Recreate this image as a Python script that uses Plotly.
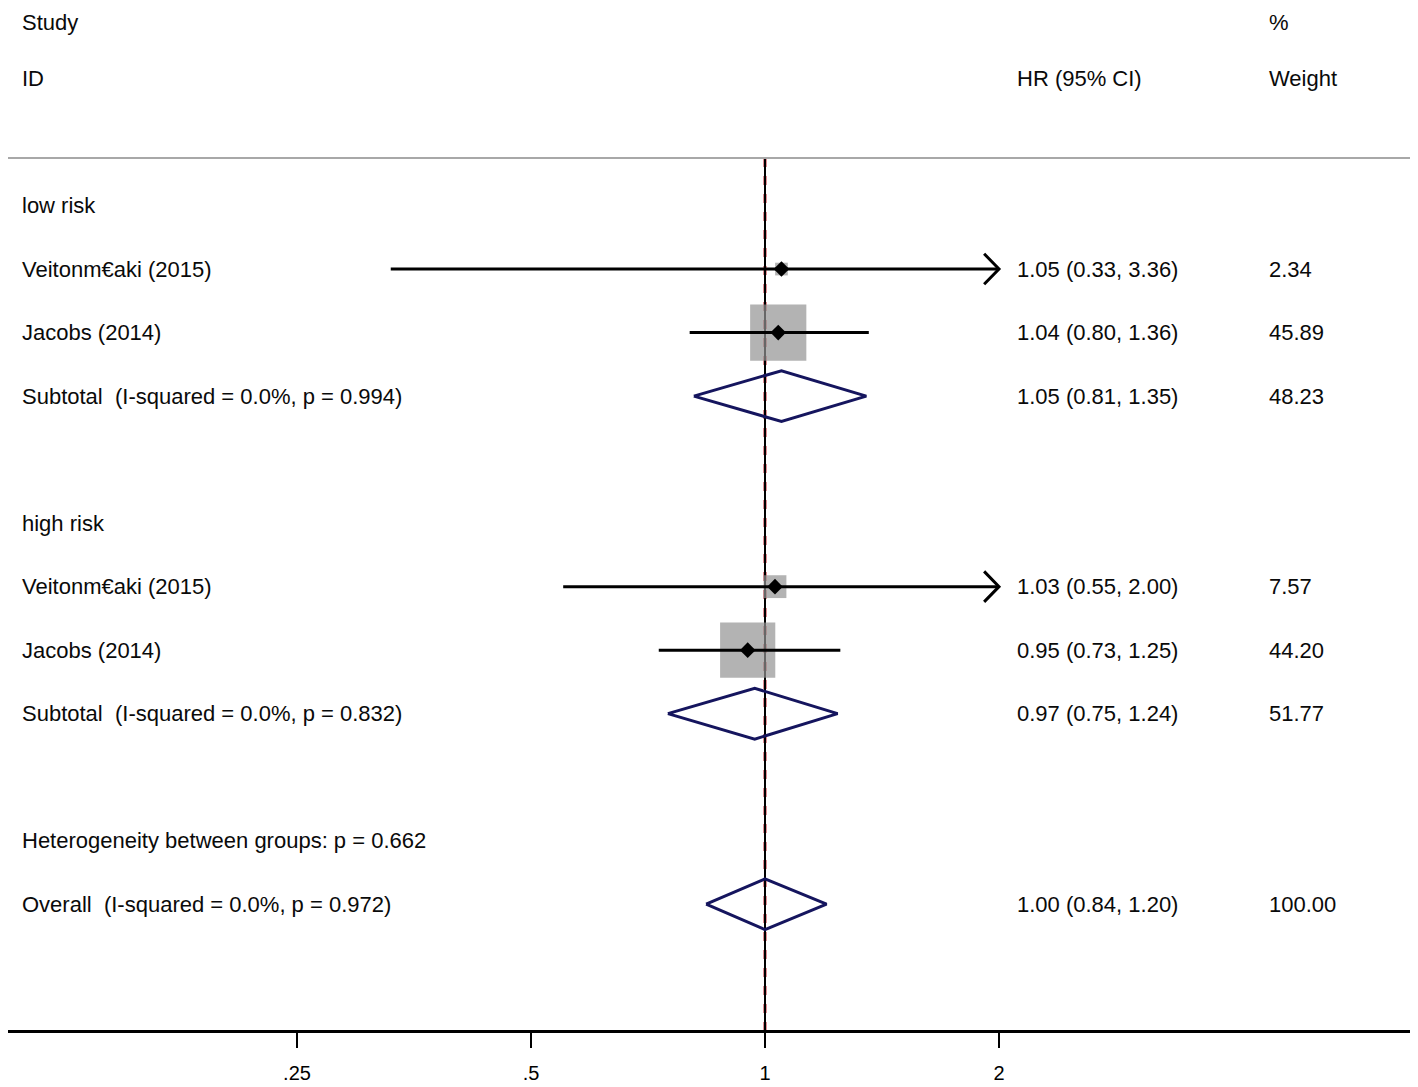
import numpy as np
import plotly.graph_objects as go

# forest plot data
groups = ["low risk", "high risk"]
studies = ["Veitonm€aki (2015)", "Jacobs (2014)", "Veitonm€aki (2015)", "Jacobs (2014)"]
study_group = [0, 0, 1, 1]
hr = [1.05, 1.04, 1.03, 0.95]
hr_lo = [0.33, 0.80, 0.55, 0.73]
hr_hi = [3.36, 1.36, 2.00, 1.25]
weight = [2.34, 45.89, 7.57, 44.20]

sub_label = ["Subtotal  (I-squared = 0.0%, p = 0.994)", "Subtotal  (I-squared = 0.0%, p = 0.832)"]
sub_hr = [1.05, 0.97]
sub_lo = [0.81, 0.75]
sub_hi = [1.35, 1.24]
sub_weight = [48.23, 51.77]

het_label = "Heterogeneity between groups: p = 0.662"
overall_label = "Overall  (I-squared = 0.0%, p = 0.972)"
overall_hr, overall_lo, overall_hi, overall_weight = 1.00, 0.84, 1.20, 100.00

tick_vals = [0.25, 0.5, 1, 2]
tick_text = [".25", ".5", "1", "2"]
clip_max = 2.0

# page has an 8px body margin, so the figure is 8px smaller each way
W, H = 1410, 1079
FONT = "Liberation Sans, Arial, sans-serif"
TXT = "#0a0a0a"
NAVY = "#15155e"

# row layout (row units, top to bottom)
group_row = [3 + 5 * g for g in range(len(groups))]
study_row = []
cnt = [0, 0]
for g in study_group:
    cnt[g] += 1
    study_row.append(group_row[g] + cnt[g])
sub_row = [r + 3 for r in group_row]
het_row = 13
overall_row = 14

fig = go.Figure()

# reference lines: red dashed at overall estimate, black at 1
fig.add_trace(go.Scatter(x=[overall_hr, overall_hr], y=[2.25, 17], mode="lines",
                         line=dict(color="#c0202a", width=3, dash="dash"), hoverinfo="skip"))
fig.add_trace(go.Scatter(x=[1, 1], y=[2.25, 17], mode="lines",
                         line=dict(color="black", width=2), hoverinfo="skip"))

# weight squares
fig.add_trace(go.Scatter(x=hr, y=study_row, mode="markers",
                         marker=dict(symbol="square", size=[8.3 * np.sqrt(w) for w in weight],
                                     color="#939393", line=dict(width=0)),
                         hoverinfo="skip"))

# confidence interval lines
cx, cy, ax_, ay_ = [], [], [], []
for lo, hi, r in zip(hr_lo, hr_hi, study_row):
    cx += [lo, min(hi, clip_max), None]
    cy += [r, r, None]
    if hi >= clip_max:
        ax_ += [clip_max / 1.045, clip_max, clip_max / 1.045, None]
        ay_ += [r - 0.24, r, r + 0.24, None]
fig.add_trace(go.Scatter(x=cx, y=cy, mode="lines", line=dict(color="black", width=3),
                         hoverinfo="skip"))
fig.add_trace(go.Scatter(x=ax_, y=ay_, mode="lines", line=dict(color="black", width=3),
                         hoverinfo="skip"))

# point estimates
fig.add_trace(go.Scatter(x=hr, y=study_row, mode="markers",
                         marker=dict(symbol="diamond", size=12, color="black"),
                         hoverinfo="skip"))

# pooled diamonds
dx, dy = [], []
for est, lo, hi, r in zip(sub_hr + [overall_hr], sub_lo + [overall_lo],
                          sub_hi + [overall_hi], sub_row + [overall_row]):
    dx += [lo, est, hi, est, lo, None]
    dy += [r, r - 0.4, r, r + 0.4, r, None]
fig.add_trace(go.Scatter(x=dx, y=dy, mode="lines", line=dict(color=NAVY, width=3),
                         hoverinfo="skip"))

# text columns (px = position in figure pixels)
def txt(px, row, s):
    fig.add_annotation(x=px / W, xref="paper", y=row, yref="y", text=s, showarrow=False,
                       xanchor="left", yanchor="middle",
                       font=dict(family=FONT, size=22, color=TXT))

# top header row nudged down a little so it is not cut at the page edge
txt(12, 0.12, "Study")
txt(12, 1, "ID")
txt(1007, 1, "HR (95% CI)")
txt(1259, 0.12, "%")
txt(1259, 1, "Weight")

for g, r in enumerate(group_row):
    txt(12, r, groups[g])
for i, r in enumerate(study_row):
    txt(12, r, studies[i])
    txt(1007, r, f"{hr[i]:.2f} ({hr_lo[i]:.2f}, {hr_hi[i]:.2f})")
    txt(1259, r, f"{weight[i]:.2f}")
for i, r in enumerate(sub_row):
    txt(12, r, sub_label[i])
    txt(1007, r, f"{sub_hr[i]:.2f} ({sub_lo[i]:.2f}, {sub_hi[i]:.2f})")
    txt(1259, r, f"{sub_weight[i]:.2f}")
txt(12, het_row, het_label)
txt(12, overall_row, overall_label)
txt(1007, overall_row, f"{overall_hr:.2f} ({overall_lo:.2f}, {overall_hi:.2f})")
txt(1259, overall_row, f"{overall_weight:.2f}")

# header separator
fig.add_shape(type="line", xref="paper", yref="y", x0=0, x1=1402 / W, y0=2.25, y1=2.25,
              line=dict(color="#a8a8a8", width=2))

fig.update_layout(
    width=W, height=H,
    margin=dict(l=0, r=0, t=0, b=57),
    plot_bgcolor="white", paper_bgcolor="white",
    showlegend=False,
    xaxis=dict(type="log", range=[-0.9739, 0.8401], tickvals=tick_vals, ticktext=tick_text,
               showgrid=False, zeroline=False, showline=True, linecolor="black", linewidth=3,
               ticks="outside", ticklen=15, tickwidth=2, tickcolor="black", ticklabelstandoff=8,
               tickfont=dict(family=FONT, size=20, color="black")),
    yaxis=dict(range=[15.98, -0.110], visible=False),
)

fig.write_html("out.html")
